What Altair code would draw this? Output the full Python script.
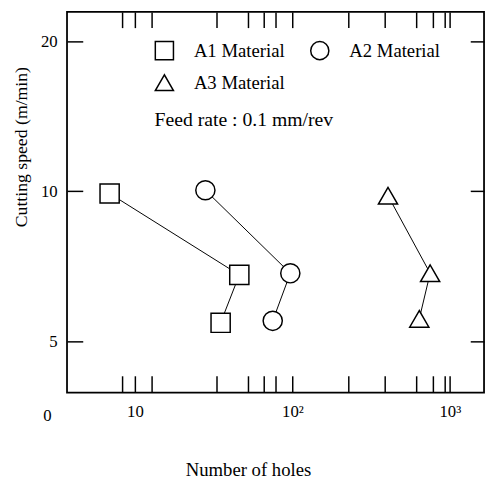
import altair as alt
import pandas as pd

materials = ["A1 Material", "A2 Material", "A3 Material"]
shapes = ["square", "circle", "triangle-up"]
holes_a1 = [6.9, 46, 35]
speed_a1 = [9.9, 6.8, 5.45]
holes_a2 = [28, 97, 75]
speed_a2 = [10.05, 6.85, 5.5]
holes_a3 = [405, 750, 640]
speed_a3 = [9.8, 6.85, 5.55]

x_ticks = [8.3, 10, 12.8, 33, 52, 66, 78, 100, 227, 387, 613, 783, 930, 1000]
y_ticks = [5, 10, 20]
origin_label = ["0"]
note = ["Feed rate : 0.1 mm/rev"]

rows = []
for m, hs, ss in zip(materials, [holes_a1, holes_a2, holes_a3], [speed_a1, speed_a2, speed_a3]):
    for i, (h, s) in enumerate(zip(hs, ss)):
        rows.append({"material": m, "holes": h, "speed": s, "seq": i})
df = pd.DataFrame(rows)

W, H = 424, 387
FONT = "Liberation Serif"

xscale = alt.Scale(type="log", domain=[3.7, 1650], nice=False)
yscale = alt.Scale(type="log", domain=[3.95, 22.9], nice=False)

label_expr = ("datum.value == 10 ? '10' : datum.value == 100 ? '10²' : "
              "datum.value == 1000 ? '10³' : ''")

x_bottom = alt.Axis(orient="bottom", values=x_ticks, labelExpr=label_expr, offset=-17,
                    tickSize=17, tickWidth=1.5, tickColor="black", domain=False, grid=False,
                    labelPadding=11, labelFontSize=17, labelFont=FONT, labelColor="black",
                    labelOverlap=False, labelFlush=False,
                    title="Number of holes", titleFont=FONT, titleFontSize=19,
                    titleFontWeight="normal", titleColor="black",
                    titleX=184, titleY=95, titleBaseline="middle", titleAlign="center")
x_top = alt.Axis(orient="top", values=x_ticks, offset=-16, tickSize=16, tickWidth=1.5,
                 tickColor="black", labels=False, domain=False, grid=False, title=None)
y_left = alt.Axis(orient="left", values=y_ticks, offset=-16, tickSize=16, tickWidth=1.5,
                  tickColor="black", domain=False, grid=False, labelPadding=10,
                  labelFontSize=17, labelFont=FONT, labelColor="black",
                  title="Cutting speed (m/min)", titleFont=FONT, titleFontSize=18,
                  titleFontWeight="normal", titleColor="black",
                  titleX=-62, titleY=137, titleBaseline="middle", titleAlign="center",
                  titleAngle=270)
y_right = alt.Axis(orient="right", values=y_ticks, offset=-14, tickSize=14, tickWidth=1.5,
                   tickColor="black", labels=False, domain=False, grid=False, title=None)

base = alt.Chart(df)

lines = base.mark_line(color="black", strokeWidth=1).encode(
    x=alt.X("holes:Q", scale=xscale, axis=x_top),
    y=alt.Y("speed:Q", scale=yscale, axis=y_right),
    detail="material:N",
    order="seq:O",
)

# white interiors so the connecting lines stop at the marker edges
backs = base.mark_point(filled=True, color="white", size=380, opacity=1).encode(
    x=alt.X("holes:Q", scale=xscale, axis=None),
    y=alt.Y("speed:Q", scale=yscale, axis=None),
    shape=alt.Shape("material:N", scale=alt.Scale(domain=materials, range=shapes),
                    legend=None),
)

points = base.mark_point(filled=False, color="black", strokeWidth=1.5, size=380,
                         opacity=1).encode(
    x=alt.X("holes:Q", scale=xscale, axis=x_bottom),
    y=alt.Y("speed:Q", scale=yscale, axis=y_left),
    shape=alt.Shape("material:N", scale=alt.Scale(domain=materials, range=shapes),
                    legend=alt.Legend(orient="none", legendX=89, legendY=29, columns=2,
                                      direction="horizontal", title=None, symbolSize=340,
                                      symbolStrokeWidth=1.5, symbolStrokeColor="black",
                                      labelFont=FONT, labelFontSize=19, labelColor="black",
                                      labelOffset=20, columnPadding=22, rowPadding=9)),
)

zero = alt.Chart(pd.DataFrame({"t": origin_label})).mark_text(
    font=FONT, fontSize=17, color="black", align="center", baseline="middle"
).encode(x=alt.value(-20), y=alt.value(H + 24), text="t:N")

feed = alt.Chart(pd.DataFrame({"t": note})).mark_text(
    font=FONT, fontSize=20, color="black", align="left", baseline="middle"
).encode(x=alt.value(89), y=alt.value(110), text="t:N")

chart = alt.layer(lines, backs, points, zero, feed).resolve_axis(
    x="independent", y="independent"
).resolve_scale(shape="independent").resolve_legend(shape="independent").properties(
    width=W, height=H,
    autosize=alt.AutoSizeParams(type="none"),
    padding={"left": 60, "top": 0, "right": 2, "bottom": 85},
    background="white",
).configure_view(stroke="black", strokeWidth=1.8)

chart.save("out.html", embed_options={"renderer": "svg", "actions": False})
